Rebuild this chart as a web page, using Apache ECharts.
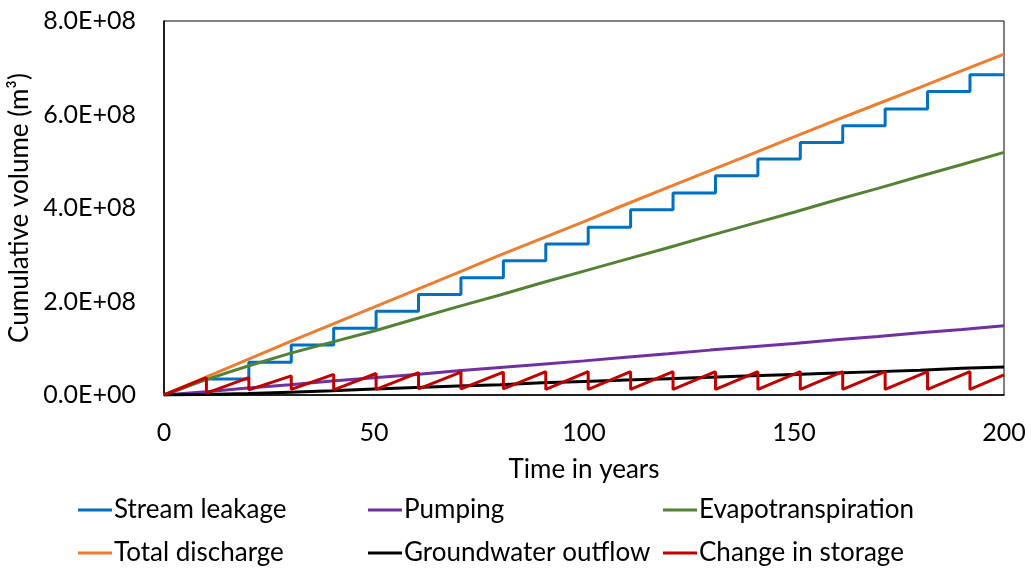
<!DOCTYPE html>
<html>
<head>
<meta charset="utf-8">
<title>Cumulative volume</title>
<script src="https://cdn.jsdelivr.net/npm/echarts@6/dist/echarts.min.js"></script>
<style>
  html, body { margin: 0; padding: 0; background: #fff; }
  #chart { width: 1032px; height: 571px; }
</style>
</head>
<body>
<div id="chart"></div>
<script>
// all volumes in units of 1E+08 m3
const years = [0, 10, 20, 30, 40, 50, 60, 70, 80, 90, 100, 110, 120, 130, 140, 150, 160, 170, 180, 190, 200]
const pumping = [0, 0.07, 0.15, 0.22, 0.30, 0.37, 0.44, 0.52, 0.59, 0.66, 0.73, 0.81, 0.88, 0.96, 1.03, 1.10, 1.18, 1.25, 1.33, 1.40, 1.48]
const evapotranspiration = [0, 0.33, 0.62, 0.89, 1.13, 1.37, 1.63, 1.89, 2.14, 2.40, 2.65, 2.90, 3.15, 3.41, 3.66, 3.91, 4.17, 4.42, 4.68, 4.93, 5.19]
const totalDischarge = [0, 0.38, 0.76, 1.14, 1.51, 1.88, 2.25, 2.62, 2.99, 3.35, 3.71, 4.08, 4.44, 4.80, 5.16, 5.52, 5.88, 6.23, 6.58, 6.94, 7.29]
const gwOutflow = [0, 0.01, 0.03, 0.06, 0.09, 0.13, 0.16, 0.19, 0.22, 0.26, 0.29, 0.32, 0.35, 0.38, 0.41, 0.44, 0.47, 0.50, 0.53, 0.57, 0.60]

// stress period ends (years), stream leakage level after each, storage peak/low at each
const stepTimes = [10.1, 20.2, 30.3, 40.4, 50.5, 60.6, 70.7, 80.8, 90.9, 101.0, 111.1, 121.2, 131.3, 141.4, 151.5, 161.6, 171.7, 181.8, 191.9]
const leakageLevels = [0.34, 0.70, 1.07, 1.43, 1.79, 2.15, 2.51, 2.87, 3.23, 3.59, 3.96, 4.32, 4.69, 5.05, 5.40, 5.76, 6.12, 6.49, 6.85]
const storagePeaks = [0.37, 0.37, 0.41, 0.44, 0.46, 0.48, 0.49, 0.49, 0.50, 0.50, 0.50, 0.50, 0.50, 0.50, 0.50, 0.50, 0.50, 0.50, 0.50]
const storageLows = [0.04, 0.11, 0.12, 0.11, 0.12, 0.13, 0.13, 0.13, 0.12, 0.12, 0.12, 0.12, 0.12, 0.12, 0.12, 0.12, 0.12, 0.12, 0.12]
const storageEnd = 0.43

const legendNames = ['Stream leakage', 'Pumping', 'Evapotranspiration', 'Total discharge', 'Groundwater outflow', 'Change in storage']
const colors = ['#0070C0', '#7030A0', '#548235', '#ED7D31', '#000000', '#C00000']

const font = 'Lato, "Open Sans", sans-serif'

// step line for leakage: diagonal first period then flat + vertical jumps
let leakage = [[0, 0]]
stepTimes.forEach((t, i) => {
  if (i > 0) leakage.push([t, leakageLevels[i - 1]])
  leakage.push([t, leakageLevels[i]])
})
leakage.push([years[years.length - 1], leakageLevels[leakageLevels.length - 1]])

// sawtooth for storage
let storage = [[0, 0]]
stepTimes.forEach((t, i) => {
  storage.push([t, storagePeaks[i]])
  storage.push([t, storageLows[i]])
})
storage.push([years[years.length - 1], storageEnd])

const pair = arr => years.map((y, i) => [y, arr[i]])
const seriesData = [leakage, pair(pumping), pair(evapotranspiration), pair(totalDischarge), pair(gwOutflow), storage]

const legendPos = [
  { left: 78, top: 497 }, { left: 368, top: 497 }, { left: 663, top: 497 },
  { left: 78, top: 540 }, { left: 368, top: 540 }, { left: 663, top: 540 }
]

const chart = echarts.init(document.getElementById('chart'))
chart.setOption({
  animation: false,
  color: colors,
  textStyle: { fontFamily: font },
  grid: {
    left: 164, right: 28, top: 21, bottom: 176,
    outerBoundsMode: 'none',
    containLabel: false,
    show: true, borderColor: '#000', borderWidth: 1
  },
  legend: legendNames.map((name, i) => ({
    data: [name],
    left: legendPos[i].left,
    top: legendPos[i].top,
    icon: 'rect',
    itemWidth: 34,
    itemHeight: 3,
    itemGap: 0,
    padding: 0,
    textStyle: { fontSize: 26, color: '#000', fontFamily: font, padding: [0, 0, 0, -3] }
  })),
  xAxis: {
    type: 'value',
    min: 0, max: 200, interval: 50,
    name: 'Time in years',
    nameLocation: 'middle',
    nameGap: 62,
    nameTextStyle: { fontSize: 26, color: '#000' },
    axisLine: { lineStyle: { color: '#000', width: 1.5 } },
    axisTick: { show: false },
    splitLine: { show: false },
    axisLabel: { fontSize: 25, color: '#000', margin: 25 }
  },
  yAxis: {
    type: 'value',
    min: 0, max: 8, interval: 2,
    name: 'Cumulative volume (m³)',
    nameLocation: 'middle',
    nameRotate: 90,
    nameGap: 127,
    nameTextStyle: { fontSize: 26, color: '#000' },
    axisLine: { show: true, lineStyle: { color: '#000', width: 1.5 } },
    axisTick: { show: false },
    splitLine: { show: false },
    axisLabel: {
      fontSize: 25, color: '#000', margin: 28,
      formatter: v => v === 0 ? '0.0E+00' : v.toFixed(1) + 'E+08'
    }
  },
  series: legendNames.map((name, i) => ({
    name: name,
    type: 'line',
    data: seriesData[i],
    symbol: 'none',
    lineStyle: { width: 3, color: colors[i] }
  }))
})
</script>
</body>
</html>
